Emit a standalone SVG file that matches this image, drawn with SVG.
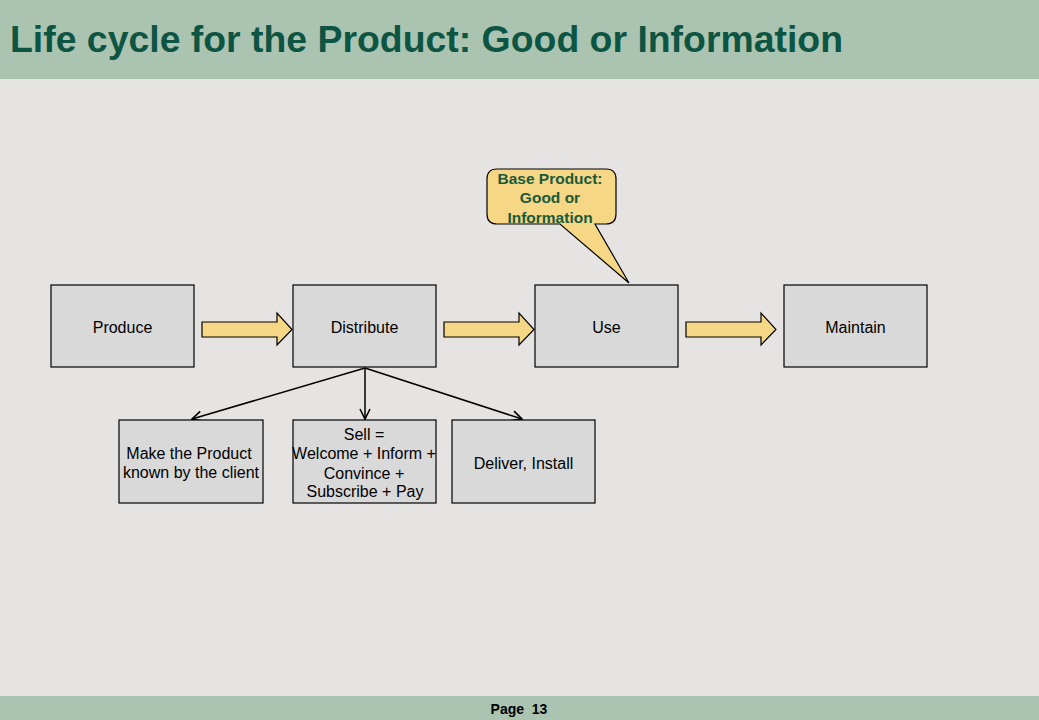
<svg xmlns="http://www.w3.org/2000/svg" width="1039" height="720" viewBox="0 0 1039 720">
<defs>
<style>
.box{fill:#d9d9d9;stroke:#000;stroke-width:1.2}
.t{font-family:"Liberation Sans",Arial,sans-serif;font-size:16px;fill:#000;text-anchor:middle}
.blk{fill:#f6d785;stroke:#000;stroke-width:1.2}
.con{stroke:#000;stroke-width:1.5;fill:none}
</style>
<marker id="open" viewBox="0 0 12 12" refX="11" refY="6" markerWidth="12" markerHeight="12" markerUnits="userSpaceOnUse" orient="auto">
<path d="M1,1 L11,6 L1,11" fill="none" stroke="#000" stroke-width="1.6"/>
</marker>
</defs>
<rect x="0" y="0" width="1039" height="720" fill="#e5e4e2"/>
<rect x="0" y="0" width="1039" height="79" fill="#abc4b2"/>
<text x="10" y="52" font-family="'Liberation Sans',Arial,sans-serif" font-size="37.4" font-weight="bold" fill="#0d5542">Life cycle for the Product: Good or Information</text>
<rect x="0" y="696" width="1039" height="24" fill="#abc4b2"/>
<text x="519" y="714" font-family="'Liberation Sans',Arial,sans-serif" font-size="14" font-weight="bold" fill="#000" text-anchor="middle">Page&#160; 13</text>

<g id="connectors">
<path class="blk" d="M202,322 H277 V313 L292,329.5 L277,345 V337 H202 Z"/>
<path class="blk" d="M444,322 H519 V313 L534,329.5 L519,345 V337 H444 Z"/>
<path class="blk" d="M686,322 H761 V313 L776,329.5 L761,345 V337 H686 Z"/>
<line class="con" x1="365" y1="368" x2="192" y2="419" marker-end="url(#open)"/>
<line class="con" x1="365" y1="368" x2="365" y2="419" marker-end="url(#open)"/>
<line class="con" x1="365" y1="368" x2="522" y2="419" marker-end="url(#open)"/>
</g>

<g id="callout">
<path d="M498,169 H606 Q616,169 616,179 V214 Q616,224 606,224 H595 L629,283 L560,224 H497 Q487,224 487,214 V179 Q487,169 497,169 Z" fill="#f6d785" stroke="#000" stroke-width="1.2"/>
<g font-family="'Liberation Sans',Arial,sans-serif" font-size="15.5" font-weight="bold" fill="#1a5a3c" text-anchor="middle">
<text x="550" y="184">Base Product:</text>
<text x="550" y="203">Good or</text>
<text x="550" y="223">Information</text>
</g>
</g>

<g id="produce"><rect class="box" x="51" y="285" width="143" height="82"/><text class="t" x="122.5" y="333">Produce</text></g>
<g id="distribute"><rect class="box" x="293" y="285" width="143" height="82"/><text class="t" x="364.5" y="333">Distribute</text></g>
<g id="use"><rect class="box" x="535" y="285" width="143" height="82"/><text class="t" x="606.5" y="333">Use</text></g>
<g id="maintain"><rect class="box" x="784" y="285" width="143" height="82"/><text class="t" x="855.5" y="333">Maintain</text></g>

<g id="make-known"><rect class="box" x="119" y="420" width="144" height="83"/><text class="t" x="189" y="459">Make the Product</text><text class="t" x="191" y="478">known by the client</text></g>
<g id="sell"><rect class="box" x="293" y="420" width="143" height="83"/>
<text class="t" x="364" y="440">Sell =</text><text class="t" x="364" y="459">Welcome + Inform +</text><text class="t" x="364" y="479">Convince +</text><text class="t" x="365" y="497">Subscribe + Pay</text></g>
<g id="deliver"><rect class="box" x="452" y="420" width="143" height="83"/><text class="t" x="523.5" y="469">Deliver, Install</text></g>
</svg>
